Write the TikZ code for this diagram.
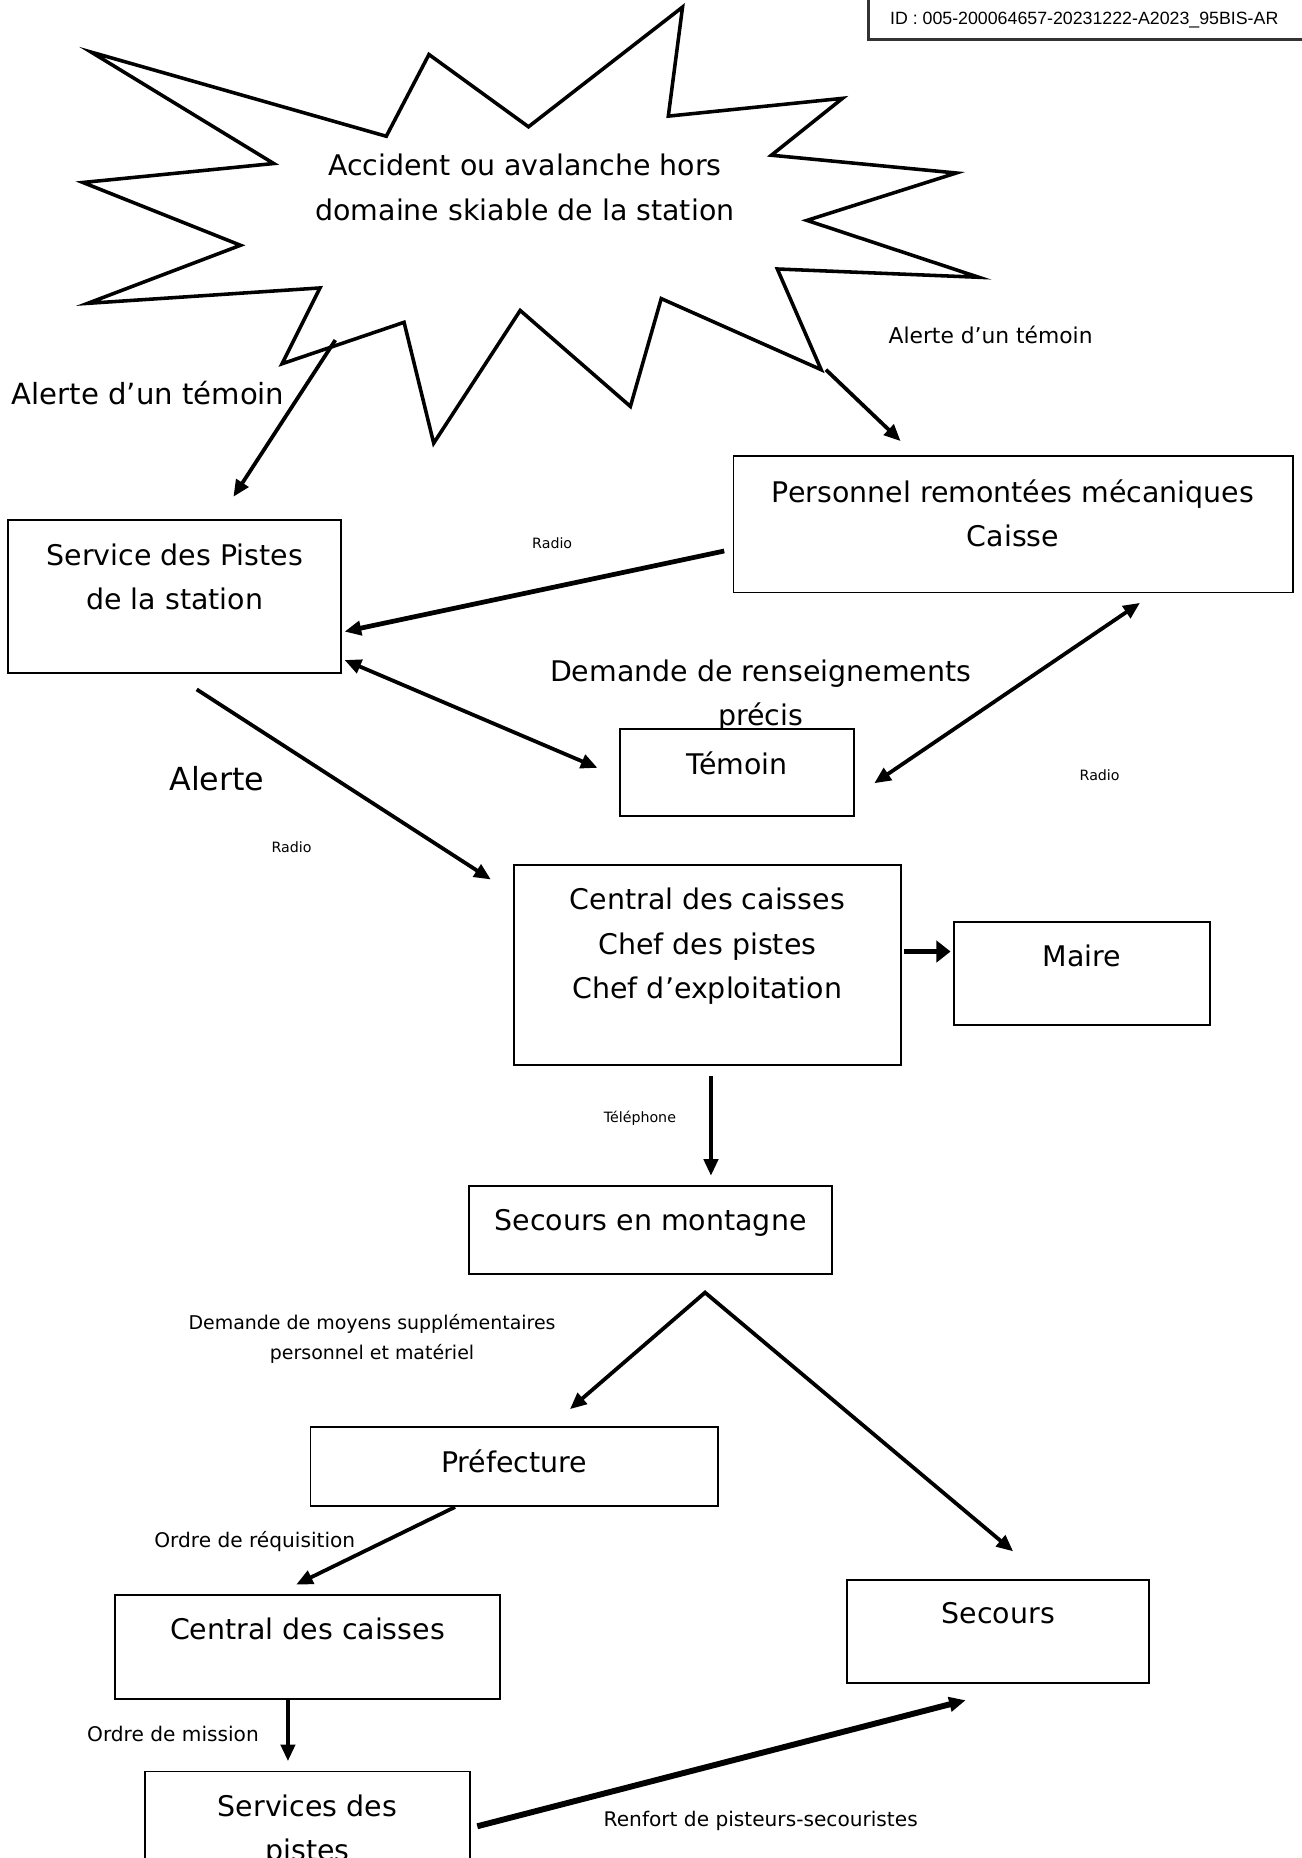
\documentclass[tikz,border=0pt]{standalone}
\usepackage{fontspec}
\setmainfont{DejaVu Sans}
\newfontfamily\idfont{Liberation Sans}
\usetikzlibrary{positioning,fit,calc,arrows.meta}

\begin{document}
\begin{tikzpicture}
  [x=0.5pt,y=-0.5pt,line join=miter,
   boite/.style={draw,fill=white,line width=0.8pt,inner sep=0pt},
   texte/.style={align=center,inner sep=0pt,font=\fontsize{12}{18.75}\selectfont},
   etiq/.style={align=center,inner sep=0pt,font=\fontsize{8.5}{12.5}\selectfont},
   petit/.style={inner sep=0pt,font=\fontsize{6}{7}\selectfont},
   fleche/.style={line width=1.6pt,-{Triangle[length=7pt,width=6pt]}},
   allerretour/.style={line width=1.6pt,{Triangle[length=7pt,width=6pt]}-{Triangle[length=7pt,width=6pt]}},
   grosse/.style={line width=2.4pt,-{Triangle[length=6pt,width=9pt]}}]
  \useasboundingbox (0,0) rectangle (1098,1568);
  \node[draw=black!80,line width=1.3pt,inner sep=0pt,fit={(733,-10) (1110,33)}] (nid) {};
  \node[inner sep=0pt,font=\idfont\fontsize{7.5}{9}\selectfont] (tid) at (915,17) {ID : 005-200064657-20231222-A2023\_95BIS-AR};
  \draw[line width=1.5pt] (77,44) -- (231,138) -- (70,154) -- (203,207) -- (74,256) -- (270,243)
    -- (238,307) -- (341,272) -- (366,374) -- (439,262) -- (532,343) -- (558,252) -- (693,312)
    -- (656,227) -- (826,234) -- (681,186) -- (807,146) -- (651,131) -- (711,83) -- (564,98)
    -- (576,6) -- (446,107) -- (362,46) -- (326,115) -- cycle;
  \node[texte] (nacc) at (443,158) {Accident ou avalanche hors\\domaine skiable de la station};
  \coordinate (sg) at (283,287);
  \coordinate (sd) at (697,312);
  \node[boite,fit={(7,439) (288,568)}] (nserv) {};
  \node[texte,below=10pt of nserv.north] (tserv) {Service des Pistes\\de la station};
  \node[boite,fit={(619,385) (1091,500)}] (npers) {};
  \node[texte,below=10pt of npers.north] (tpers) {Personnel remontées mécaniques\\Caisse};
  \node[texte] (tdem) at (642,587) {Demande de renseignements\\précis};
  \node[boite,fit={(523,615) (721,689)}] (ntem) {};
  \node[texte,below=10pt of ntem.north] (ttem) {Témoin};
  \node[boite,fit={(434,730) (760,899)}] (ncent) {};
  \node[texte,below=10pt of ncent.north] (tcent) {Central des caisses\\Chef des pistes\\Chef d’exploitation};
  \node[boite,fit={(805,778) (1021,865)}] (nmaire) {};
  \node[texte,below=10pt of nmaire.north] (tmaire) {Maire};
  \node[boite,fit={(396,1001) (702,1075)}] (nsecm) {};
  \node[texte,below=10pt of nsecm.north] (tsecm) {Secours en montagne};
  \node[boite,fit={(262,1204) (606,1271)}] (npref) {};
  \node[texte,below=10pt of npref.north] (tpref) {Préfecture};
  \node[boite,fit={(97,1346) (422,1434)}] (ncaisse) {};
  \node[texte,below=10pt of ncaisse.north] (tcaisse) {Central des caisses};
  \node[boite,fit={(715,1333) (970,1420)}] (nsecours) {};
  \node[texte,below=10pt of nsecours.north] (tsecours) {Secours};
  \node[boite,fit={(122,1495) (397,1620)}] (npistes) {};
  \node[texte,below=10pt of npistes.north] (tpistes) {Services des\\pistes};
  \node[texte,font=\fontsize{12.3}{15}\selectfont] (lag) at (125,332) {Alerte d’un témoin};
  \node[etiq,font=\fontsize{9.2}{11}\selectfont] (lad) at (836,283) {Alerte d’un témoin};
  \node[petit] (lr1) at (466,458) {Radio};
  \node[texte,font=\fontsize{13.4}{16}\selectfont] (lal) at (183,657) {Alerte};
  \node[petit] (lr2) at (246,715) {Radio};
  \node[petit] (lr3) at (928,654) {Radio};
  \node[petit] (ltel) at (540,944) {Téléphone};
  \node[etiq,font=\fontsize{8}{12.5}\selectfont] (lmoy) at (314,1130) {Demande de moyens supplémentaires\\personnel et matériel};
  \node[etiq] (lreq) at (215,1301) {Ordre de réquisition};
  \node[etiq] (lmis) at (146,1463) {Ordre de mission};
  \node[etiq] (lren) at (642,1537) {Renfort de pisteurs-secouristes};
  \draw[fleche] (sg) -- ($(nserv.north)+(49.5,-19)$);
  \draw[fleche] (sd) -- ($(npers.north)+(-95,-12)$);
  \draw[fleche,line width=2pt] ($(npers.west)+(-7,22.5)$) -- ($(nserv.east)+(2,29.5)$);
  \draw[allerretour] ($(nserv.east)+(2,53.5)$) -- ($(ntem.west)+(-18,-4)$);
  \draw[allerretour] ($(npers.south)+(107,8)$) -- ($(ntem.east)+(16,9)$);
  \draw[fleche] ($(nserv.south)+(18.5,13)$) -- ($(ncent.north west)+(-19,13)$);
  \draw[grosse] ($(ncent.east)+(2,-11.5)$) -- ($(nmaire.west)+(-2,-18.5)$);
  \draw[fleche] ($(ncent.south)+(3,8)$) -- ($(nsecm.north)+(51,-8)$);
  \draw[allerretour] ($(npref.north)+(47,-14)$) -- ($(nsecm.south)+(46,15)$) -- ($(nsecours.north)+(12.5,-23)$);
  \draw[fleche] ($(npref.south)+(-50,0)$) -- ($(ncaisse.north)+(-9.5,-8)$);
  \draw[fleche] ($(ncaisse.south)+(-16.5,0)$) -- ($(npistes.north)+(-16.5,-8)$);
  \draw[fleche,line width=2.5pt] ($(npistes.north east)+(5,47)$) -- ($(nsecours.south)+(-27.5,14)$);
\end{tikzpicture}
\end{document}
